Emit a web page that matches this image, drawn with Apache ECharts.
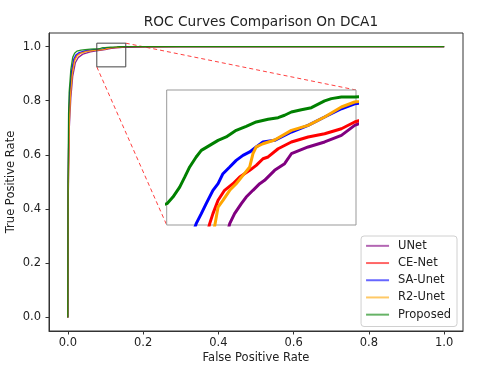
<!DOCTYPE html>
<html><head><meta charset="utf-8">
<script src="https://cdn.jsdelivr.net/npm/echarts@6/dist/echarts.min.js"></script>
<style>html,body{margin:0;padding:0;background:#fff}#c{width:480px;height:376px}</style>
</head><body><div id="c"></div>
<script>
const seriesNames = ['UNet', 'CE-Net', 'SA-Unet', 'R2-Unet', 'Proposed'];
const seriesColors = ['#800080', '#ff0000', '#0000ff', '#ffa500', '#008000'];
const fprTicks = [0, 0.2, 0.4, 0.6, 0.8, 1.0];
const tprTicks = [0, 0.2, 0.4, 0.6, 0.8, 1.0];
const insetRangeX = [0.08, 0.15];
const insetRangeY = [0.99, 1.0];
const zoomBoxX = [0.077, 0.154];
const zoomBoxY = [0.925, 1.0125];

const unet = [[0,0],[0.001,0.42],[0.004,0.7],[0.008,0.81],[0.013,0.89],[0.02,0.94],[0.028,0.96],[0.04,0.972],[0.06,0.98],[0.08,0.985],[0.095,0.988],[0.1027,0.98963],[0.1033,0.9901],[0.1051,0.99084],[0.1076,0.99158],[0.1094,0.99207],[0.1119,0.99257],[0.1144,0.99306],[0.1162,0.99331],[0.1199,0.99405],[0.1236,0.99454],[0.1261,0.99528],[0.1323,0.99578],[0.1384,0.99615],[0.1446,0.99664],[0.1495,0.99738],[0.16,0.9982],[0.2,0.9992],[0.3,0.9998],[0.5,1],[1,1]];
const cenet = [[0,0],[0.001,0.48],[0.003,0.74],[0.006,0.83],[0.011,0.905],[0.017,0.95],[0.024,0.968],[0.034,0.977],[0.05,0.983],[0.07,0.987],[0.085,0.9888],[0.0953,0.98963],[0.0959,0.9901],[0.0971,0.99084],[0.099,0.99183],[0.1014,0.99257],[0.1045,0.99306],[0.107,0.99356],[0.1107,0.99405],[0.1131,0.99442],[0.1156,0.99491],[0.1175,0.99504],[0.1212,0.99565],[0.1261,0.99615],[0.1323,0.99652],[0.1384,0.99676],[0.1446,0.99713],[0.1495,0.99763],[0.16,0.9983],[0.2,0.9992],[0.3,0.9998],[0.5,1],[1,1]];
const saunet = [[0,0],[0.001,0.5],[0.003,0.75],[0.005,0.83],[0.01,0.91],[0.016,0.955],[0.022,0.97],[0.03,0.978],[0.045,0.984],[0.065,0.988],[0.08,0.9893],[0.0901,0.98963],[0.0909,0.9901],[0.0928,0.99084],[0.0946,0.99158],[0.0971,0.99257],[0.099,0.99306],[0.1008,0.9938],[0.1033,0.9943],[0.1057,0.99479],[0.1082,0.99516],[0.1107,0.99541],[0.1131,0.99578],[0.1156,0.99615],[0.1199,0.99627],[0.1261,0.99689],[0.1323,0.99738],[0.1384,0.998],[0.1446,0.99861],[0.1495,0.99898],[0.16,0.9993],[0.2,0.9996],[0.3,0.9999],[0.5,1],[1,1]];
const r2unet = [[0,0],[0.001,0.45],[0.004,0.72],[0.007,0.82],[0.012,0.9],[0.018,0.948],[0.025,0.966],[0.035,0.976],[0.05,0.982],[0.07,0.986],[0.09,0.9885],[0.0975,0.98963],[0.0979,0.9901],[0.099,0.99133],[0.1008,0.99183],[0.1033,0.99257],[0.1057,0.99306],[0.1082,0.99368],[0.1107,0.9943],[0.1119,0.99528],[0.1131,0.99578],[0.1156,0.99602],[0.1199,0.9963],[0.1261,0.99701],[0.1323,0.99738],[0.1384,0.998],[0.1446,0.99874],[0.1495,0.99911],[0.16,0.9994],[0.2,0.9996],[0.3,0.9999],[0.5,1],[1,1]];
const proposed = [[0,0],[0.0005,0.5],[0.002,0.75],[0.0035,0.83],[0.008,0.915],[0.013,0.96],[0.018,0.975],[0.024,0.983],[0.035,0.987],[0.046,0.989],[0.06,0.9905],[0.07,0.991],[0.0801,0.99158],[0.0823,0.99207],[0.0848,0.99281],[0.0867,0.99356],[0.0885,0.9943],[0.0909,0.99504],[0.0928,0.99553],[0.0959,0.9959],[0.099,0.99627],[0.102,0.99652],[0.1057,0.99701],[0.1094,0.99731],[0.1131,0.99763],[0.1175,0.99783],[0.1212,0.99795],[0.1236,0.99813],[0.1261,0.99837],[0.1298,0.99854],[0.1335,0.99869],[0.1384,0.99919],[0.1409,0.99936],[0.1446,0.99948],[0.1495,0.99948],[0.16,0.9996],[0.2,0.9998],[0.3,0.9999],[0.5,1],[1,1]];
const curves = [unet, cenet, saunet, r2unet, proposed];

const FONT = 'DejaVu Sans';
const chart = echarts.init(document.getElementById('c'), null, {renderer: 'canvas'});
const insetRect = {left: 166.7, top: 90, width: 189.3, height: 135};

const series = [];
curves.forEach((d, i) => {
  series.push({
    name: seriesNames[i], type: 'line', xAxisIndex: 0, yAxisIndex: 0, data: d,
    showSymbol: false, symbol: 'none', clip: true, animation: false,
    lineStyle: {color: seriesColors[i], width: 1.3, opacity: 0.85}, itemStyle: {color: seriesColors[i]}
  });
});
curves.forEach((d, i) => {
  series.push({
    name: seriesNames[i], type: 'line', xAxisIndex: 1, yAxisIndex: 1, data: d,
    showSymbol: false, symbol: 'none', clip: true, animation: false, z: 5,
    lineStyle: {color: seriesColors[i], width: 3}, itemStyle: {color: seriesColors[i]}
  });
});

const FS = 11.5;
const axisLabelStyle = {color: '#222', fontFamily: FONT, fontSize: FS};
chart.setOption({
  backgroundColor: '#fff',
  animation: false,
  title: {text: 'ROC Curves Comparison On DCA1', left: 256, top: 10, textAlign: 'center',
    textStyle: {fontFamily: FONT, fontSize: 13.7, fontWeight: 'normal', color: '#222'}},
  legend: {
    orient: 'vertical', right: 23, top: 236, padding: [3, 6, 5, 5], itemGap: 3.5,
    itemWidth: 23, itemHeight: 2, borderColor: '#d0d0d0', borderWidth: 1, borderRadius: 3,
    backgroundColor: 'rgba(255,255,255,0.8)',
    textStyle: {fontFamily: FONT, fontSize: FS, color: '#222', lineHeight: 13.7, padding: [0, 0, 0, 4]},
    data: seriesNames.map((n, i) => ({name: n, icon: 'rect', itemStyle: {color: seriesColors[i], opacity: 0.6}}))
  },
  grid: [
    {left: 49, top: 33, right: 17, bottom: 45, show: true, borderColor: '#333', borderWidth: 1, backgroundColor: 'transparent', outerBoundsMode: 'none', containLabel: false},
    {left: insetRect.left, top: insetRect.top, width: insetRect.width, height: insetRect.height, show: true, borderColor: '#999', borderWidth: 1, backgroundColor: '#fff', z: 4, outerBoundsMode: 'none', containLabel: false}
  ],
  xAxis: [
    {type: 'value', gridIndex: 0, min: -0.05, max: 1.05, name: 'False Positive Rate', nameLocation: 'middle', nameGap: 21, nameMoveOverlap: false,
      nameTextStyle: {fontFamily: FONT, fontSize: FS, color: '#222'},
      axisLine: {show: true, onZero: false, lineStyle: {color: '#333'}},
      axisTick: {show: true, length: 3.5, customValues: fprTicks, lineStyle: {color: '#333'}},
      axisLabel: Object.assign({customValues: fprTicks, margin: 6, formatter: v => v.toFixed(1)}, axisLabelStyle),
      splitLine: {show: false}},
    {type: 'value', gridIndex: 1, min: insetRangeX[0], max: insetRangeX[1], show: false, splitLine: {show: false}}
  ],
  yAxis: [
    {type: 'value', gridIndex: 0, min: -0.05, max: 1.05, name: 'True Positive Rate', nameLocation: 'middle', nameGap: 32, nameMoveOverlap: false,
      nameTextStyle: {fontFamily: FONT, fontSize: FS, color: '#222'},
      axisLine: {show: true, onZero: false, lineStyle: {color: '#333'}},
      axisTick: {show: true, length: 3.5, customValues: tprTicks, lineStyle: {color: '#333'}},
      axisLabel: Object.assign({customValues: tprTicks, margin: 8, formatter: v => v.toFixed(1)}, axisLabelStyle),
      splitLine: {show: false}},
    {type: 'value', gridIndex: 1, min: insetRangeY[0], max: insetRangeY[1], show: false, splitLine: {show: false}}
  ],
  series: series
});

// zoom box and connector lines
const p0 = chart.convertToPixel({gridIndex: 0}, [zoomBoxX[0], zoomBoxY[0]]);
const p1 = chart.convertToPixel({gridIndex: 0}, [zoomBoxX[1], zoomBoxY[1]]);
const insTR = [insetRect.left + insetRect.width, insetRect.top];
const insBL = [insetRect.left, insetRect.top + insetRect.height];
const dash = {stroke: 'rgba(255,0,0,0.75)', lineWidth: 1, lineDash: [4, 3]};
chart.setOption({
  graphic: [
    {type: 'rect', shape: {x: p0[0], y: p1[1], width: p1[0] - p0[0], height: p0[1] - p1[1]}, style: {fill: 'none', stroke: '#444', lineWidth: 1}, z: 10},
    {type: 'line', shape: {x1: p1[0], y1: p1[1], x2: insTR[0], y2: insTR[1]}, style: dash, z: 3},
    {type: 'line', shape: {x1: p0[0], y1: p0[1], x2: insBL[0], y2: insBL[1]}, style: dash, z: 3}
  ]
});
</script>
</body></html>
